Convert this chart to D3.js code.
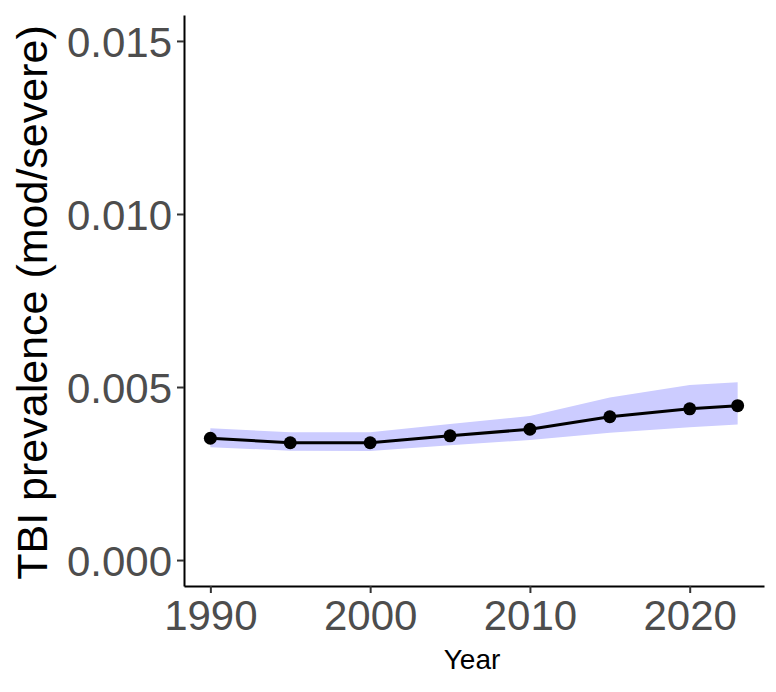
<!DOCTYPE html>
<html>
<head>
<meta charset="utf-8">
<script src="https://cdn.jsdelivr.net/npm/d3@7"></script>
<style>
  body { margin: 0; background: #fff; }
  svg text { font-family: "Liberation Sans", Arial, Helvetica, sans-serif; }
</style>
</head>
<body>
<div id="chart"></div>
<script>
(function(){

var width = 776,
	height = 692,
	margin = {left: 184, right: 12, top: 15, bottom: 106};

// data
var years = [1990, 1995, 2000, 2005, 2010, 2015, 2020, 2023];
var prevalence = [0.00352, 0.00339, 0.00339, 0.00359, 0.00378, 0.00414, 0.00437, 0.00446];
var upper = [0.00381, 0.00369, 0.00369, 0.00393, 0.00416, 0.00470, 0.00506, 0.00514];
var lower = [0.00326, 0.00316, 0.00315, 0.00332, 0.00347, 0.00368, 0.00384, 0.00392];

var xTicks = [1990, 2000, 2010, 2020];
var yTicks = [0, 0.005, 0.010, 0.015];

var rows = years.map(function(y, i){
	return {year: y, v: prevalence[i], lo: lower[i], hi: upper[i]};
});

var svg = d3.select("#chart").append("svg")
	.attr("width", width)
	.attr("height", height);

// ggplot-style 5% expansion
var xr = d3.extent(years), xpad = (xr[1] - xr[0]) * 0.05;
var X = d3.scaleLinear().domain([xr[0] - xpad, xr[1] + xpad])
	.range([margin.left, width - margin.right]);
var Y = d3.scaleLinear().domain([-0.00075, 0.01575])
	.range([height - margin.bottom, margin.top]);

// ribbon
var band = d3.area()
	.x(function(d){ return X(d.year); })
	.y0(function(d){ return Y(d.lo); })
	.y1(function(d){ return Y(d.hi); });

svg.append("path")
	.datum(rows)
	.attr("d", band)
	.style("fill", "rgb(204,204,255)")
	.style("stroke", "none");

var line = d3.line()
	.x(function(d){ return X(d.year); })
	.y(function(d){ return Y(d.v); });

svg.append("path")
	.datum(rows)
	.attr("d", line)
	.style("fill", "none")
	.style("stroke", "black")
	.style("stroke-width", 3);

svg.selectAll(".pt").data(rows).enter().append("circle")
	.attr("class", "pt")
	.attr("cx", function(d){ return X(d.year); })
	.attr("cy", function(d){ return Y(d.v); })
	.attr("r", 6.5)
	.style("fill", "black");

// axes
var xAxis = svg.append("g")
	.attr("transform", "translate(0," + (height - margin.bottom) + ")")
	.call(d3.axisBottom(X).tickValues(xTicks).tickFormat(d3.format("d")).tickSizeInner(7).tickSizeOuter(0).tickPadding(7));

var yAxis = svg.append("g")
	.attr("transform", "translate(" + margin.left + ",0)")
	.call(d3.axisLeft(Y).tickValues(yTicks).tickFormat(d3.format(".3f")).tickSizeInner(7).tickSizeOuter(0).tickPadding(5));

[xAxis, yAxis].forEach(function(a){
	a.select(".domain").style("stroke", "black").style("stroke-width", 2);
	a.selectAll(".tick line").style("stroke", "#333333").style("stroke-width", 2);
	a.selectAll(".tick text")
		.style("fill", "#4D4D4D")
		.style("font-size", "42px");
});

xAxis.selectAll(".tick text").attr("dy", "0.71em");
yAxis.selectAll(".tick text").attr("dy", "0.36em");

// titles
svg.append("text")
	.attr("x", (X.range()[0] + X.range()[1]) / 2 - 2)
	.attr("y", 669)
	.attr("text-anchor", "middle")
	.style("font-size", "28px")
	.style("fill", "black")
	.text("Year");

svg.append("text")
	.attr("transform", "translate(47," + ((Y.range()[0] + Y.range()[1]) / 2 + 2) + ") rotate(-90)")
	.attr("text-anchor", "middle")
	.style("font-size", "43px")
	.style("fill", "black")
	.text("TBI prevalence (mod/severe)");

})()
</script>
</body>
</html>
